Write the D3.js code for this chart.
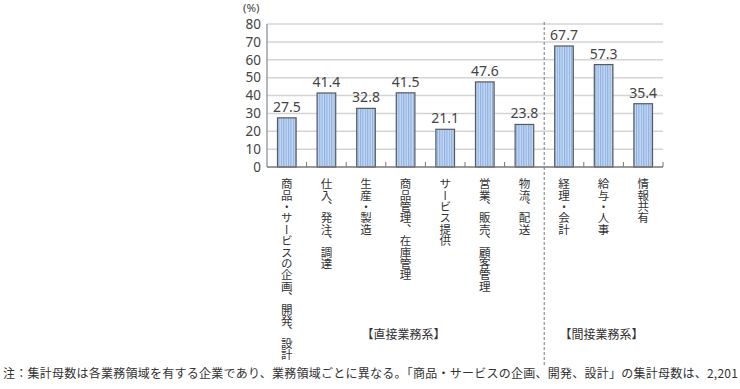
<!DOCTYPE html>
<meta charset="utf-8">
<style>
body {
	margin: 0;
	background: #fff;
	font-family: "Noto Sans CJK JP", sans-serif;
}
svg {
	display: block;
}
.grid line {
	stroke: #d4d4d4;
	stroke-width: 1.5;
}
.ytick {
	font-family: "Noto Sans", sans-serif;
	font-size: 13.5px;
	fill: #444;
}
.val {
	font-family: "Noto Sans", sans-serif;
	font-size: 14px;
	fill: #444;
}
.cat {
	font-size: 11.5px;
	letter-spacing: -0.1px;
	fill: #333;
	writing-mode: vertical-rl;
}
.grp {
	font-size: 12px;
	fill: #333;
}
.note {
	font-size: 12px;
	letter-spacing: 0.25px;
	fill: #333;
}
</style>
<body>
<svg width="740" height="389"></svg>
<script src="https://d3js.org/d3.v7.min.js"></script>
<script>

var categories = ["商品・サービスの企画、開発、設計", "仕入、発注、調達", "生産・製造", "商品管理、在庫管理",
	"サービス提供", "営業、販売、顧客管理", "物流、配送", "経理・会計", "給与・人事", "情報共有"];
var values = [27.5, 41.4, 32.8, 41.5, 21.1, 47.6, 23.8, 67.7, 57.3, 35.4];
var yTicks = [0, 10, 20, 30, 40, 50, 60, 70, 80];
var groups = [
	{ label: "【直接業務系】", from: 0, to: 7 },
	{ label: "【間接業務系】", from: 7, to: 10 }
];
var note = "注：集計母数は各業務領域を有する企業であり、業務領域ごとに異なる。「商品・サービスの企画、開発、設計」の集計母数は、2,201";

var plotLeft = 267, plotRight = 663, plotTop = 24, plotBottom = 167;

var svg = d3.select("svg");

// striped bar fill
var defs = svg.append("defs");
var pat = defs.append("pattern")
	.attr("id", "stripe")
	.attr("patternUnits", "userSpaceOnUse")
	.attr("width", 2.4)
	.attr("height", 10);
pat.append("rect").attr("width", 2.4).attr("height", 10).attr("fill", "#c6d9f3");
pat.append("rect").attr("width", 1.1).attr("height", 10).attr("fill", "#8cb0e2");

var x = d3.scaleBand()
	.domain(categories)
	.range([plotLeft, plotRight])
	.paddingInner(0.53)
	.paddingOuter(0.265);

var y = d3.scaleLinear()
	.domain([0, 80])
	.range([plotBottom, plotTop]);

// grid
svg.append("g")
	.attr("class", "grid")
	.selectAll("line")
	.data(yTicks.filter(function(d) { return d > 0; }))
	.join("line")
	.attr("x1", plotLeft)
	.attr("x2", plotRight)
	.attr("y1", function(d) { return y(d); })
	.attr("y2", function(d) { return y(d); });

// y labels
svg.append("g")
	.selectAll("text")
	.data(yTicks)
	.join("text")
	.attr("class", "ytick")
	.attr("x", plotLeft - 6)
	.attr("y", function(d) { return y(d); })
	.attr("dy", "0.36em")
	.attr("text-anchor", "end")
	.text(function(d) { return d; });

svg.append("text")
	.attr("class", "ytick")
	.attr("x", 243)
	.attr("y", 12)
	.style("font-size", "11.5px")
	.text("(%)");

// bars
svg.append("g")
	.selectAll("rect")
	.data(values)
	.join("rect")
	.attr("x", function(d, i) { return x(categories[i]); })
	.attr("y", function(d) { return y(d); })
	.attr("width", x.bandwidth())
	.attr("height", function(d) { return y(0) - y(d); })
	.attr("fill", "url(#stripe)")
	.attr("stroke", "#5a5a5a")
	.attr("stroke-width", 1.2);

svg.append("g")
	.selectAll("text")
	.data(values)
	.join("text")
	.attr("class", "val")
	.attr("x", function(d, i) { return x(categories[i]) + x.bandwidth() / 2; })
	.attr("y", function(d) { return y(d) - 6; })
	.attr("text-anchor", "middle")
	.text(function(d) { return d.toFixed(1); });

// axes
svg.append("line")
	.attr("x1", plotLeft).attr("x2", plotLeft)
	.attr("y1", plotTop).attr("y2", plotBottom)
	.attr("stroke", "#888").attr("stroke-width", 1.2);
svg.append("line")
	.attr("x1", plotLeft).attr("x2", plotRight)
	.attr("y1", plotBottom).attr("y2", plotBottom)
	.attr("stroke", "#777").attr("stroke-width", 1.5);

var step = x.step();
var tickPos = d3.range(1, categories.length + 1).filter(function(i) { return i !== 7; });
svg.append("g")
	.selectAll("line")
	.data(tickPos)
	.join("line")
	.attr("x1", function(i) { return plotLeft + i * step; })
	.attr("x2", function(i) { return plotLeft + i * step; })
	.attr("y1", plotBottom - 5)
	.attr("y2", plotBottom)
	.attr("stroke", "#777");

// divider
svg.append("line")
	.attr("x1", plotLeft + 7 * step).attr("x2", plotLeft + 7 * step)
	.attr("y1", 22).attr("y2", 366)
	.attr("stroke", "#777")
	.attr("stroke-dasharray", "3,2");

// vertical category labels
svg.append("g")
	.selectAll("text")
	.data(categories)
	.join("text")
	.attr("class", "cat")
	.attr("x", function(d) { return x(d) + x.bandwidth() / 2; })
	.attr("y", 178)
	.text(function(d) { return d; });

// group labels
svg.append("g")
	.selectAll("text")
	.data(groups)
	.join("text")
	.attr("class", "grp")
	.attr("x", function(d) { return plotLeft + (d.from + d.to) / 2 * step - 2; })
	.attr("y", 339)
	.attr("text-anchor", "middle")
	.text(function(d) { return d.label; });

svg.append("text")
	.attr("class", "note")
	.attr("x", 3)
	.attr("y", 378)
	.text(note);

</script>
</body>
